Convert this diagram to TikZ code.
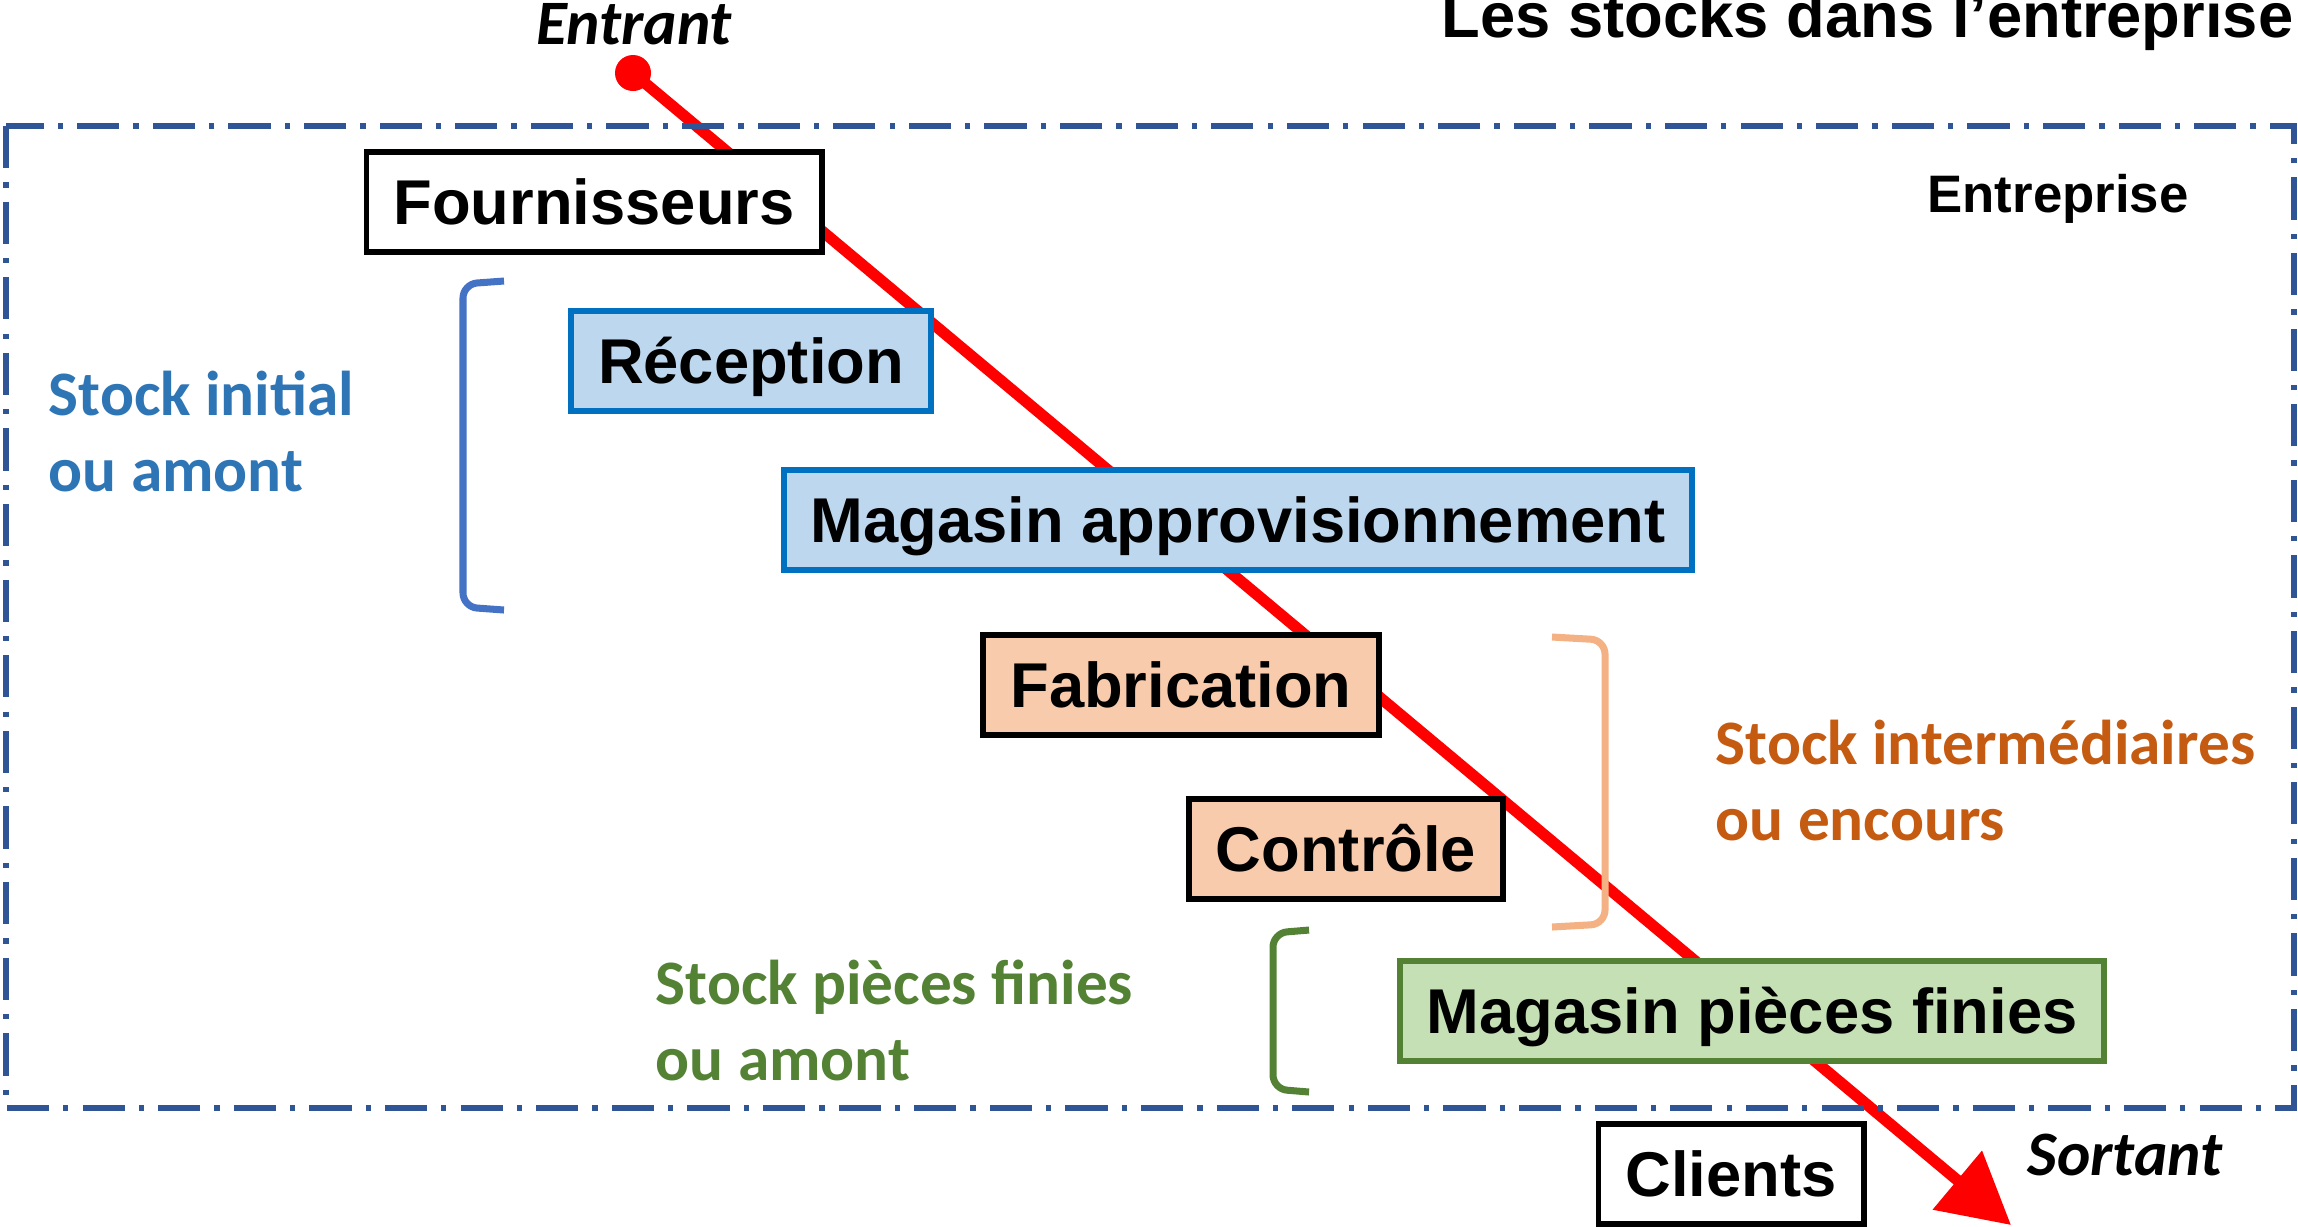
\documentclass[tikz,border=0pt]{standalone}
\usepackage{fontspec}
\setmainfont{Liberation Sans}
\newfontfamily\calibri{Carlito}
\usetikzlibrary{arrows.meta}
\definecolor{cadre}{HTML}{2F5597}
\definecolor{bleufond}{HTML}{BDD7EE}
\definecolor{bleutrait}{HTML}{0070C0}
\definecolor{bleutexte}{HTML}{2E75B6}
\definecolor{bleucrochet}{HTML}{4472C4}
\definecolor{saumon}{HTML}{F8CBAD}
\definecolor{orangetexte}{HTML}{C55A11}
\definecolor{orangecrochet}{HTML}{F4B183}
\definecolor{vertfond}{HTML}{C5E0B4}
\definecolor{vert}{HTML}{548235}

\begin{document}
\begin{tikzpicture}[x=0.01cm,y=-0.01cm,
    boite/.style={draw,line width=1.7pt,inner xsep=0.27cm,minimum height=1cm,text height=12.9pt,text depth=0pt,font=\bfseries\fontsize{18}{21}\selectfont},
    legende/.style={anchor=base west,align=left,inner sep=0pt,font=\calibri\bfseries\fontsize{18}{21.6}\selectfont},
    crochet/.style={line width=2pt,rounded corners=4pt}]
    \useasboundingbox (0,0) rectangle (2298,1226);

    % flux entrant -> sortant
    \node[circle,fill=red,inner sep=0pt,minimum size=0.36cm] (debut) at (633,73) {};
    \coordinate (fin) at (2011,1225);
    \draw[red,line width=3.2pt,-{Triangle[length=0.7cm,width=0.74cm]}] (debut.center) -- (fin);

    % cadre de l'entreprise
    \draw[cadre,line width=1.7pt,dash pattern=on 12pt off 4pt on 1.5pt off 4pt] (6,126) rectangle (2294,1108);

    % titres
    \node[anchor=base east,inner sep=0pt,font=\bfseries\fontsize{18}{21}\selectfont] (titre) at (2294,37) {Les stocks dans l’entreprise};
    \node[anchor=base,inner sep=0pt,font=\bfseries\fontsize{15}{18}\selectfont] (entreprise) at (2058,212) {Entreprise};
    \node[anchor=base,inner sep=0pt,font=\calibri\bfseries\itshape\fontsize{18}{21}\selectfont] (entrant) at (634,44) {Entrant};
    \node[anchor=base,inner sep=0pt,font=\calibri\bfseries\itshape\fontsize{18}{21}\selectfont] (sortant) at (2125,1175) {Sortant};

    % les services
    \node[boite,fill=white] (fournisseurs) at (594,202) {Fournisseurs};
    \node[boite,fill=bleufond,draw=bleutrait] (reception) at (751,361) {Réception};
    \node[boite,fill=bleufond,draw=bleutrait] (magappro) at (1238,520) {Magasin approvisionnement};
    \node[boite,fill=saumon] (fabrication) at (1181,685) {Fabrication};
    \node[boite,fill=saumon] (controle) at (1346,849) {Contrôle};
    \node[boite,fill=vertfond,draw=vert] (magpf) at (1752,1011) {Magasin pièces finies};
    \node[boite,fill=white] (clients) at (1731,1174) {Clients};

    % crochets
    \draw[crochet,bleucrochet] (504,281) -- (463,284) -- (463,607) -- (504,610);
    \draw[crochet,orangecrochet] (1552,637) -- (1605,640) -- (1605,924) -- (1552,927);
    \draw[crochet,vert] (1309,930) -- (1273,933) -- (1273,1089) -- (1309,1092);

    % types de stock
    \node[legende,text=bleutexte] (stockinitial) at (48,491) {Stock initial\\ou amont};
    \node[legende,text=orangetexte] (stockencours) at (1715,840) {Stock intermédiaires\\ou encours};
    \node[legende,text=vert] (stockfinies) at (655,1080) {Stock pièces finies\\ou amont};
\end{tikzpicture}
\end{document}
